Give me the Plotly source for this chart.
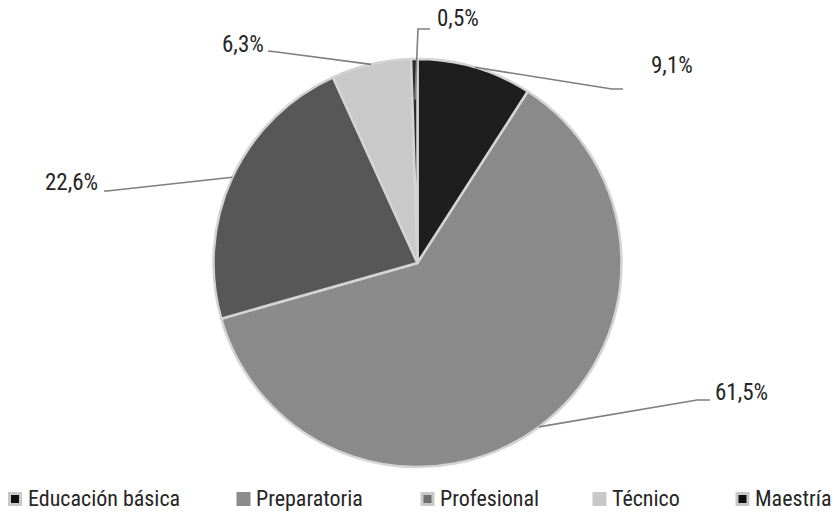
import math
import plotly.graph_objects as go

# Distribution by education level (percent)
categories = ["Educación básica", "Preparatoria", "Profesional", "Técnico", "Maestría"]
shares = [0.5, 22.6, 61.5, 6.3, 9.1]
# Clockwise slice order starting at 12 o'clock
pie_order = ["Maestría", "Profesional", "Preparatoria", "Técnico", "Educación básica"]

W, H = 834, 513
CX, CY, R = 417.5, 263, 204          # pie centre and radius in pixels
FONT = "Liberation Sans Narrow, Arial Narrow, Roboto Condensed, Arial, sans-serif"
TXT = "#262626"
LEADER = "#7f7f7f"

slice_colors = {
    "Maestría": "#1e1e1e",
    "Profesional": "#8a8a8a",
    "Preparatoria": "#575757",
    "Técnico": "#c9c9c9",
    "Educación básica": "#2a2a2a",
}

# Leader-line layout per slice: start radius factor, elbow, end, label centre (pixels)
label_layout = {
    "Maestría":         dict(rf=1.0, elbow=(612, 89), end=(623, 89), text=(672, 65)),
    "Profesional":      dict(rf=1.0, elbow=(697, 400), end=(710, 400), text=(741, 392)),
    "Preparatoria":     dict(rf=1.0, elbow=(107, 191), end=(104, 191), text=(71, 183)),
    "Técnico":          dict(rf=1.0, elbow=(277, 52), end=(268, 51), text=(243, 44)),
    "Educación básica": dict(rf=0.8, elbow=(418, 29), end=(430, 29), text=(458, 19)),
}

# Legend swatches: (inner fill, border) and positions
legend_style = {
    "Educación básica": ("#111111", "#c8c8c8"),
    "Preparatoria":     ("#8c8c8c", "#8c8c8c"),
    "Profesional":      ("#6e6e6e", "#c8c8c8"),
    "Técnico":          ("#c8c8c8", "#c8c8c8"),
    "Maestría":         ("#111111", "#c8c8c8"),
}
legend_x = {"Educación básica": 15, "Preparatoria": 243.5, "Profesional": 427.5,
            "Técnico": 599.5, "Maestría": 742.5}
LEGEND_Y = 499


def px(x):
    return x / W


def py(y):
    return 1 - y / H


value_of = dict(zip(categories, shares))
pie_values = [value_of[c] for c in pie_order]
total = sum(pie_values)

fig = go.Figure()
fig.add_trace(go.Pie(
    labels=pie_order,
    values=pie_values,
    sort=False,
    direction="clockwise",
    rotation=0,
    textinfo="none",
    hoverinfo="skip",
    showlegend=False,
    marker=dict(colors=[slice_colors[c] for c in pie_order],
                line=dict(color="#d4d4d4", width=2.5)),
    domain=dict(x=[px(CX - R), px(CX + R)], y=[py(CY + R), py(CY - R)]),
))

shapes = []
annotations = []
cum = 0.0
for cat, val in zip(pie_order, pie_values):
    mid = (cum + val / 2) / total * 2 * math.pi
    cum += val
    lay = label_layout[cat]
    sx = CX + lay["rf"] * R * math.sin(mid)
    sy = CY - lay["rf"] * R * math.cos(mid)
    ex, ey = lay["elbow"]
    tx, ty = lay["end"]
    shapes.append(dict(type="path", xref="paper", yref="paper",
                       path=f"M {px(sx)},{py(sy)} L {px(ex)},{py(ey)} L {px(tx)},{py(ty)}",
                       line=dict(color=LEADER, width=1.6)))
    lx, ly = lay["text"]
    annotations.append(dict(x=px(lx), y=py(ly), xref="paper", yref="paper",
                            text=f"{val:.1f}%".replace(".", ","), showarrow=False,
                            xanchor="center", yanchor="middle",
                            font=dict(family=FONT, size=23, color=TXT)))

# Legend drawn along the bottom
for cat in categories:
    fill, border = legend_style[cat]
    x0 = legend_x[cat]
    half = 5.5
    shapes.append(dict(type="rect", xref="paper", yref="paper",
                       x0=px(x0 - half), x1=px(x0 + half),
                       y0=py(LEGEND_Y + half), y1=py(LEGEND_Y - half),
                       fillcolor=fill, line=dict(color=border, width=3)))
    annotations.append(dict(x=px(x0 + 10.5), y=py(LEGEND_Y - 1), xref="paper", yref="paper",
                            text=cat, showarrow=False, xanchor="left", yanchor="middle",
                            font=dict(family=FONT, size=22, color=TXT)))

fig.update_layout(
    width=W, height=H,
    margin=dict(l=0, r=0, t=0, b=0),
    paper_bgcolor="white",
    plot_bgcolor="white",
    shapes=shapes,
    annotations=annotations,
    showlegend=False,
)

fig.write_html("out.html")
